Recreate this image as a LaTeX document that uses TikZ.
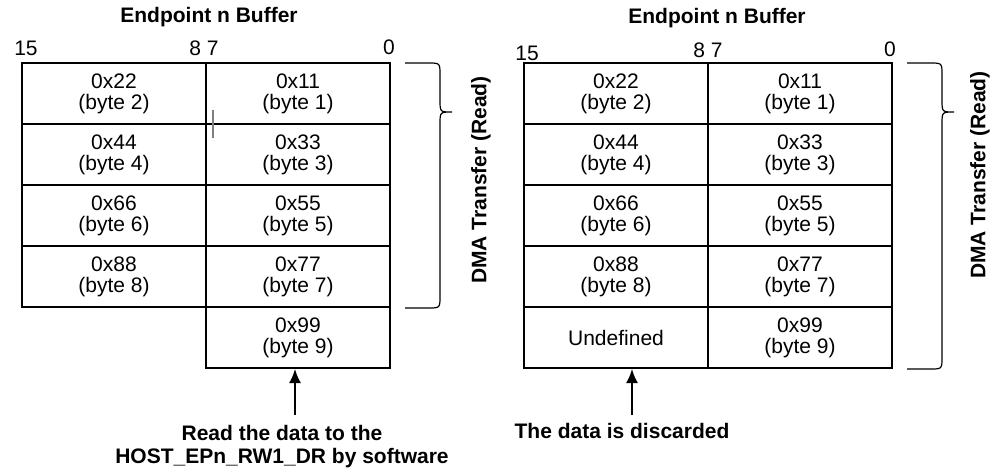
\documentclass[tikz,border=0pt]{standalone}
\usepackage{fontspec}
\setmainfont{Liberation Sans}
\usetikzlibrary{arrows.meta}

\tikzset{
  cell/.style={draw, line width=1pt, rectangle, minimum width=92pt, minimum height=30.5pt,
    inner sep=0pt, align=center, font=\fontsize{10.5}{10.5}\selectfont},
  bitno/.style={font=\fontsize{10.5}{12}\selectfont, inner sep=0pt},
  heading/.style={font=\fontsize{10.5}{12}\selectfont\bfseries, inner sep=0pt},
  remark/.style={font=\fontsize{10.5}{11.5}\selectfont\bfseries, align=center, inner sep=0pt},
  braceline/.style={line width=0.6pt},
  readarrow/.style={-{Latex[length=7pt,width=6pt]}, line width=0.9pt},
}

\begin{document}
\begin{tikzpicture}[x=0.5pt, y=-0.5pt]
\useasboundingbox (0,0) rectangle (994,472);

\begin{scope}
        % Title and bit numbers
        \node[heading] (Ltitle) at (209,17) {Endpoint n Buffer};
        \node[bitno] (Lb15) at (26,48) {15};
        \node[bitno] (Lb87) at (204,48) {8 7};
        \node[bitno] (Lb0) at (389,47) {0};

        % Buffer cells: high byte left, low byte right
        \foreach \r/\hb/\ha/\lb/\la in {1/22/2/11/1, 2/44/4/33/3, 3/66/6/55/5, 4/88/8/77/7} {
            \node[cell] (Lhi\r) at (114, 32.5+61*\r) {0x\hb\\(byte \ha)};
            \node[cell] (Llo\r) at (298, 32.5+61*\r) {0x\lb\\(byte \la)};
        }
        \node[cell] (Llo5) at (298, 337.5) {0x99\\(byte 9)};
        \draw[gray, line width=0.7pt] (213,110) -- (213,138);

        % Brace for the DMA transfer
        \coordinate (Lbtop) at (405,63);
        \coordinate (Lbtip) at (452,112);
        \coordinate (Lbbot) at (405,308);
        \draw[braceline] (Lbtop) -- (428,63) .. controls (440,63) .. (440,75) -- (440,100)
            .. controls (440,112) .. (Lbtip) .. controls (440,112) .. (440,124) -- (440,296)
            .. controls (440,308) .. (428,308) -- (Lbbot);
        \node[heading, rotate=90] (Ldma) at (481,180) {DMA Transfer (Read)};

        % Software read
        \node[remark] (Lnote) at (282,447) {Read the data to the\\HOST\_EPn\_RW1\_DR by software};
        \coordinate (Ltail) at (295,415);
        \draw[readarrow] (Ltail) -- (Ltail |- Llo5.south);
\end{scope}

\begin{scope}[shift={(502,0)}]
        % Title and bit numbers
        \node[heading] (Rtitle) at (215,18) {Endpoint n Buffer};
        \node[bitno] (Rb15) at (25,53) {15};
        \node[bitno] (Rb87) at (206,50) {8 7};
        \node[bitno] (Rb0) at (388,49) {0};

        % Buffer cells: high byte left, low byte right
        \foreach \r/\hb/\ha/\lb/\la in {1/22/2/11/1, 2/44/4/33/3, 3/66/6/55/5, 4/88/8/77/7} {
            \node[cell] (Rhi\r) at (114, 32.5+61*\r) {0x\hb\\(byte \ha)};
            \node[cell] (Rlo\r) at (298, 32.5+61*\r) {0x\lb\\(byte \la)};
        }
        \node[cell] (Rhi5) at (114, 337.5) {Undefined};
        \node[cell] (Rlo5) at (298, 337.5) {0x99\\(byte 9)};

        % Brace for the DMA transfer
        \coordinate (Rbtop) at (405,63);
        \coordinate (Rbtip) at (452,112);
        \coordinate (Rbbot) at (405,369);
        \draw[braceline] (Rbtop) -- (428,63) .. controls (440,63) .. (440,75) -- (440,100)
            .. controls (440,112) .. (Rbtip) .. controls (440,112) .. (440,124) -- (440,357)
            .. controls (440,369) .. (428,369) -- (Rbbot);
        \node[heading, rotate=90] (Rdma) at (478,175) {DMA Transfer (Read)};

        % Discarded byte
        \node[remark] (Rnote) at (120,431) {The data is discarded};
        \coordinate (Rtail) at (130,415);
        \draw[readarrow] (Rtail) -- (Rtail |- Rhi5.south);
\end{scope}
\end{tikzpicture}
\end{document}
